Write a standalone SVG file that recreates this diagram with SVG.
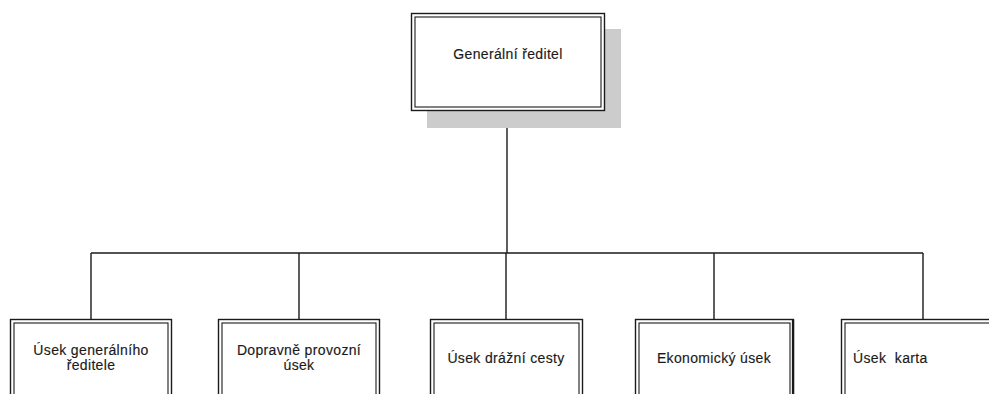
<svg xmlns="http://www.w3.org/2000/svg" width="989" height="394" viewBox="0 0 989 394">
<style>
.o{fill:#fff;stroke:#1a1a1a;stroke-width:1.4}
.i{fill:none;stroke:#1a1a1a;stroke-width:1.1}
.t{font-family:"Liberation Sans",Arial,sans-serif;font-size:14px;letter-spacing:0.35px;fill:#1a1a1a;stroke:#1a1a1a;stroke-width:0.15;text-anchor:middle}
.c{fill:none;stroke:#1a1a1a;stroke-width:1.4}
</style>
<rect width="989" height="394" fill="#fff"/>
<g id="connectors">
<path class="c" d="M507,110 V253"/>
<path class="c" d="M91,253 H923"/>
<path class="c" d="M91,253 V319 M299,253 V319 M506,253 V319 M714,253 V319 M923,253 V319"/>
</g>
<g id="n0">
<rect x="427" y="29" width="194" height="99" fill="#cccccc"/>
<rect class="o" x="411.5" y="13.5" width="193" height="97"/>
<rect class="i" x="415" y="17" width="186" height="90"/>
<text class="t" x="508" y="59">Generální ředitel</text>
</g>
<g id="n1">
<rect class="o" x="10.5" y="319.5" width="161" height="90"/>
<rect class="i" x="14" y="323" width="154" height="90"/>
<text class="t" x="91" y="355">Úsek generálního</text>
<text class="t" x="91" y="370">ředitele</text>
</g>
<g id="n2">
<rect class="o" x="218.5" y="319.5" width="161" height="90"/>
<rect class="i" x="222" y="323" width="154" height="90"/>
<text class="t" x="299" y="355">Dopravně provozní</text>
<text class="t" x="299" y="370">úsek</text>
</g>
<g id="n3">
<rect class="o" x="430.5" y="319.5" width="152" height="90"/>
<rect class="i" x="434" y="323" width="145" height="90"/>
<text class="t" x="506" y="363">Úsek drážní cesty</text>
</g>
<g id="n4">
<rect class="o" x="635.5" y="319.5" width="158" height="90"/>
<path d="M793,320 V394" stroke="#1a1a1a" stroke-width="2.2"/>
<rect class="i" x="639" y="323" width="151" height="90"/>
<text class="t" x="714" y="363">Ekonomický úsek</text>
</g>
<g id="n5">
<rect class="o" x="841.5" y="319.5" width="164" height="90"/>
<rect class="i" x="845" y="323" width="157" height="90"/>
<text class="t" x="853" y="363" style="text-anchor:start" xml:space="preserve">Úsek  karta</text>
</g>
</svg>
